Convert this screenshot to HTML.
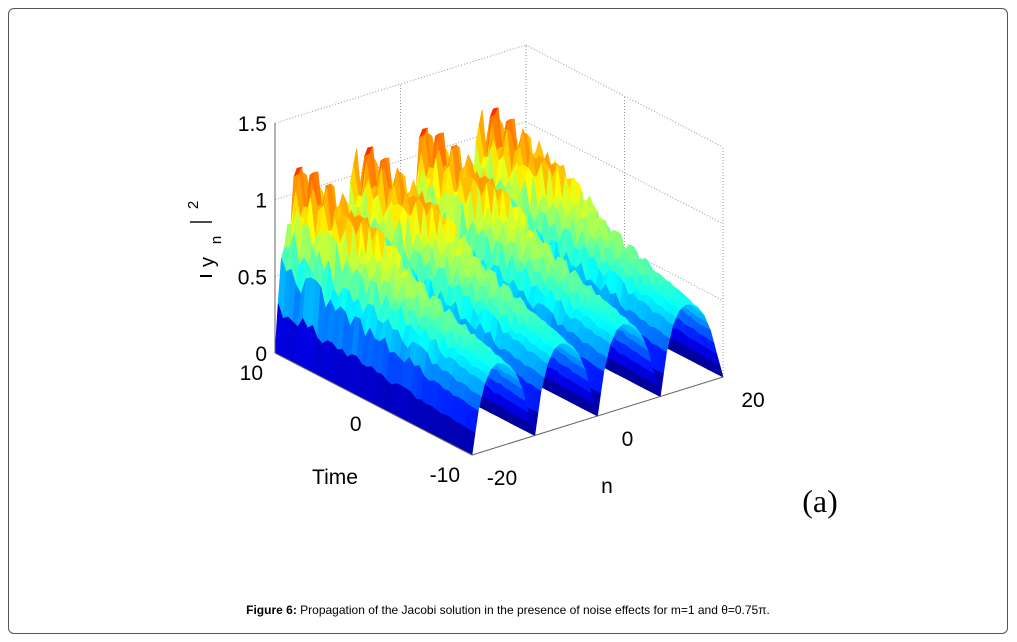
<!DOCTYPE html>
<html><head><meta charset="utf-8"><style>
html,body{margin:0;padding:0;background:#fff;}
#frame{position:absolute;left:8px;top:8px;width:1000px;height:626px;border:1px solid #555;border-radius:6px;box-sizing:border-box;}
svg{position:absolute;left:0;top:0;}
text{font-family:"Liberation Sans",sans-serif;}
</style></head><body>
<div id="frame"></div>
<svg id="chart" width="1017" height="642">
<g id="grid"></g>
<g id="surf"></g>
<g id="axes"></g>
<g font-size="20">
<line x1="200" y1="276" x2="212" y2="276" stroke="#000" stroke-width="2"/>
<text x="214" y="262" transform="rotate(-90 214 262)" text-anchor="middle">y</text>
<text x="221" y="240" transform="rotate(-90 221 240)" font-size="15" text-anchor="middle">n</text>
<line x1="190" y1="222" x2="212" y2="222" stroke="#000" stroke-width="2" opacity="0.7"/>
<text x="198" y="205" transform="rotate(-90 198 205)" font-size="15" text-anchor="middle">2</text>
</g>
<text x="335" y="484" font-size="21" text-anchor="middle">Time</text>
<text x="607" y="493" font-size="21" text-anchor="middle">n</text>
<text x="820" y="512" font-size="32" text-anchor="middle" style="font-family:'Liberation Serif',serif">(a)</text>
<text x="508" y="614" font-size="12" text-anchor="middle"><tspan font-weight="bold">Figure 6:</tspan> Propagation of the Jacobi solution in the presence of noise effects for m=1 and θ=0.75π.</text>
</svg>
<script>
const timeValues=[-10,-8,-6,-4,-2,0,2,4,6,8,10];
const amplitude=[0.55,0.58,0.62,0.67,0.72,0.78,0.84,0.9,0.95,1.0,1.04];
const humpProfile=[0,0.5,0.8,0.95,1.0,0.98,0.92,0.8,0.6,0.3,0];
const noise=[0.12,-0.08,0.2,0.05,-0.12,0.18,0.02,-0.05,0.25,-0.1,0.08,0.15,-0.02,0.22,-0.14,0.06,0.1,-0.06,0.19,0.0,-0.09,0.14,0.24,-0.04,0.07,-0.13,0.17,0.03,0.21,-0.07,0.11,-0.11,0.16,0.04,-0.03,0.23,-0.15,0.09,0.13,-0.01];
const zTicks=[0,0.5,1,1.5];
const tTicks=[10,0,-10];
const nTicks=[-20,0,20];
const NS="http://www.w3.org/2000/svg";
function P(t,n,z){const u=(10-t)/20,v=(n+20)/40;return [275+u*197+v*251,353+u*102-v*78-z*153.3];}
function jet(x){x=Math.max(0,Math.min(1,x));const r=Math.min(1,Math.max(0,1.5-Math.abs(4*x-3))),g=Math.min(1,Math.max(0,1.5-Math.abs(4*x-2))),b=Math.min(1,Math.max(0,1.5-Math.abs(4*x-1)));return `rgb(${Math.round(r*255)},${Math.round(g*255)},${Math.round(b*255)})`;}
function amp(t){const f=(t+10)/2,i=Math.min(9,Math.floor(f)),a=f-i;return amplitude[i]*(1-a)+amplitude[i+1]*a;}
function hump(n){const p=((n+20)%10+10)%10,i=Math.min(9,Math.floor(p)),a=p-i;return humpProfile[i]*(1-a)+humpProfile[i+1]*a;}
function Z(i,j,t,n){const h=hump(n);const nz=noise[(i*7+j*13)%noise.length]*(t+10)/20*h;return Math.max(0,amp(t)*h+nz);}
const surf=document.getElementById('surf'),grid=document.getElementById('grid'),axes=document.getElementById('axes');
function mk(tag,at,parent){const e=document.createElementNS(NS,tag);for(const k in at)e.setAttribute(k,at[k]);parent.appendChild(e);return e;}
const dash={stroke:"#999","stroke-width":1,"stroke-dasharray":"1,2",fill:"none"};
function dl(a,b,name){const e=mk('line',Object.assign({x1:a[0],y1:a[1],x2:b[0],y2:b[1]},dash),grid);

}
zTicks.forEach(z=>{dl(P(10,-20,z),P(10,20,z),'gridline-z');dl(P(10,20,z),P(-10,20,z),'gridline-z');});
nTicks.forEach(n=>{dl(P(10,n,0),P(10,n,1.5),'gridline-n');dl(P(10,n,0),P(-10,n,0),'gridline-n');});
tTicks.forEach(t=>{dl(P(t,20,0),P(t,20,1.5),'gridline-t');dl(P(t,-20,0),P(t,20,0),'gridline-t');});
const NT=40,NN=80,Zg=[];
for(let i=0;i<=NT;i++){Zg.push([]);const t=10-20*i/NT;for(let j=0;j<=NN;j++){const n=-20+40*j/NN;Zg[i].push(Z(i,j,t,n));}}
const quads=[];
for(let i=0;i<NT;i++)for(let j=0;j<NN;j++)quads.push([i,j,i/NT-j/NN]);
quads.sort((a,b)=>a[2]-b[2]);
for(const [i,j] of quads){
 const pts=[[i,j],[i+1,j],[i+1,j+1],[i,j+1]].map(([a,b])=>P(10-20*a/NT,-20+40*b/NN,Zg[a][b]));
 const zm=(Zg[i][j]+Zg[i+1][j]+Zg[i+1][j+1]+Zg[i][j+1])/4;
 const c=jet(zm/1.4);
 const q=mk('polygon',{points:pts.map(p=>p[0].toFixed(1)+','+p[1].toFixed(1)).join(' '),fill:c,stroke:c,'stroke-width':0.6},surf);
 
 
}
function sl(a,b,name){const e=mk('line',{x1:a[0],y1:a[1],x2:b[0],y2:b[1],stroke:"#666","stroke-width":1},axes);

}
sl(P(10,-20,0),P(10,-20,1.5),'z-axis-line');
sl(P(10,-20,0),P(-10,-20,0),'time-axis-line');
sl(P(-10,-20,0),P(-10,20,0),'n-axis-line');
function tx(x,y,s,anchor,name){const e=mk('text',{x:x,y:y,'font-size':21,'text-anchor':anchor},axes);e.textContent=s;

}
zTicks.forEach(z=>{const p=P(10,-20,z);tx(p[0]-8,p[1]+8,String(z),'end','z-tick-label');});
tTicks.forEach(t=>{const p=P(t,-20,0);tx(p[0]-12,p[1]+27,String(t),'end','time-tick-label');});
nTicks.forEach(n=>{const p=P(-10,n,0);tx(p[0]+30,p[1]+30,String(n),'middle','n-tick-label');});
</script>
</body></html>
